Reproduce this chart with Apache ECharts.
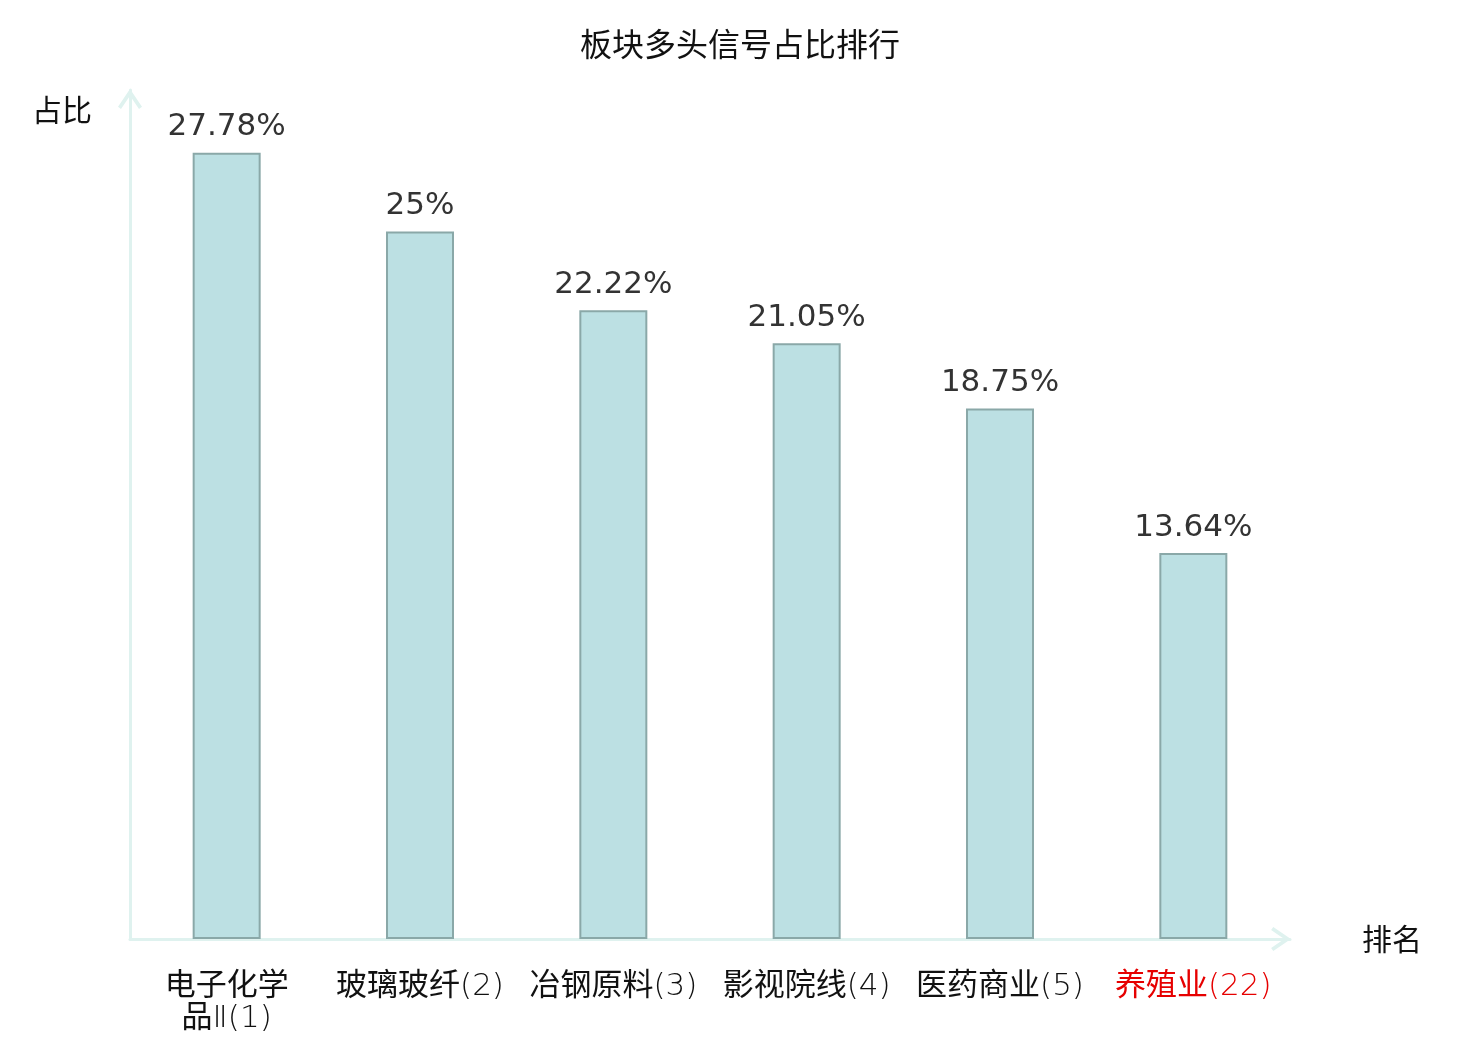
<!DOCTYPE html>
<html><head><meta charset="utf-8">
<script src="https://cdn.jsdelivr.net/npm/echarts@6/dist/echarts.min.js"></script>
<style>html,body{margin:0;padding:0;background:#fff}#c{width:1480px;height:1040px}</style>
</head><body><div id="c"></div>
<script>
const titleText = '板块多头信号占比排行';
const sectorNames = ['电子化学品Ⅱ', '玻璃玻纤', '冶钢原料', '影视院线', '医药商业', '养殖业'];
const sectorRanks = [1, 2, 3, 4, 5, 22];
const shareValues = [27.78, 25, 22.22, 21.05, 18.75, 13.64];
const yAxisName = '占比';
const xAxisName = '排名';

const FONT = '"DejaVu Sans", "Noto Sans CJK SC", sans-serif';
const CJK = '"Noto Sans CJK SC", sans-serif';
const categories = sectorNames.map((n, i) => n + '(' + sectorRanks[i] + ')');
const CHEVRON = 'path://M12,0 L24,17.6 L21,19.8 L12,6.6 L3,19.8 L0,17.6 Z';
const isCJK = ch => /[\u3400-\u9fff]/.test(ch);
function richLine(line, red) {
  let out = '', buf = '', cur = null;
  const flush = () => { if (buf) out += '{' + cur + (red ? 'r' : '') + '|' + buf + '}'; buf = ''; };
  for (const ch of Array.from(line)) {
    const k = isCJK(ch) ? 'c' : 'l';
    if (k !== cur) { flush(); cur = k; }
    buf += ch;
  }
  flush();
  return out;
}
function wrap4(s, red) {
  const m = s.match(/^(.*?)(\(\d+\))$/);
  const name = m ? m[1] : s, tail = m ? m[2] : '';
  const chars = Array.from(name), parts = [];
  for (let i = 0; i < chars.length; i += 4) parts.push(chars.slice(i, i + 4).join(''));
  parts[parts.length - 1] += tail;
  return parts.map(p => richLine(p, red)).join('\n');
}
const BLACK = '#111', RED = '#e60000';
const base = { fontSize: 31, lineHeight: 32, verticalAlign: 'middle' };
const latinShift = { padding: [8, 0, 0, 0] };
const chart = echarts.init(document.getElementById('c'));
chart.setOption({
  animation: false,
  backgroundColor: '#fff',
  title: { text: titleText, left: 'center', top: 23,
    textStyle: { fontFamily: CJK, fontSize: 32, fontWeight: 'normal', color: BLACK } },
  grid: { left: 130, right: 190, top: 90, bottom: 101 },
  xAxis: {
    type: 'category', data: categories,
    name: xAxisName, nameGap: 72,
    nameTextStyle: { fontFamily: CJK, fontSize: 30, color: BLACK, padding: [6, 0, 0, 0] },
    axisLine: { lineStyle: { color: '#dff2ef', width: 3 }, symbol: ['none', CHEVRON], symbolSize: [24, 21], symbolOffset: [0, -9] },
    axisTick: { show: false },
    axisLabel: {
      interval: 0, margin: 28, fontSize: 31, lineHeight: 32,
      formatter: (v, i) => wrap4(v, i === categories.length - 1),
      rich: {
        c: Object.assign({ fontFamily: CJK, fontWeight: 'normal', color: BLACK }, base),
        l: Object.assign({ fontFamily: FONT, fontWeight: 200, color: BLACK }, base, latinShift),
        cr: Object.assign({ fontFamily: CJK, fontWeight: 'normal', color: RED }, base),
        lr: Object.assign({ fontFamily: FONT, fontWeight: 200, color: RED }, base, latinShift)
      }
    }
  },
  yAxis: {
    type: 'value', min: 0, max: 30,
    name: yAxisName, nameGap: -5,
    nameTextStyle: { fontFamily: CJK, fontSize: 30, color: BLACK, align: 'right', verticalAlign: 'top', padding: [0, 38, 0, 0] },
    axisLine: { show: true, lineStyle: { color: '#dff2ef', width: 3 }, symbol: ['none', CHEVRON], symbolSize: [24, 21], symbolOffset: [0, -9] },
    axisTick: { show: false }, axisLabel: { show: false }, splitLine: { show: false }
  },
  series: [{
    type: 'bar', data: shareValues, barWidth: 68,
    itemStyle: { color: '#bce0e3', borderColor: '#8aa8a8', borderWidth: 2 },
    label: { show: true, position: 'top', distance: 10, fontFamily: FONT, fontSize: 31, color: '#333',
      formatter: p => p.value + '%' }
  }]
});
</script></body></html>
